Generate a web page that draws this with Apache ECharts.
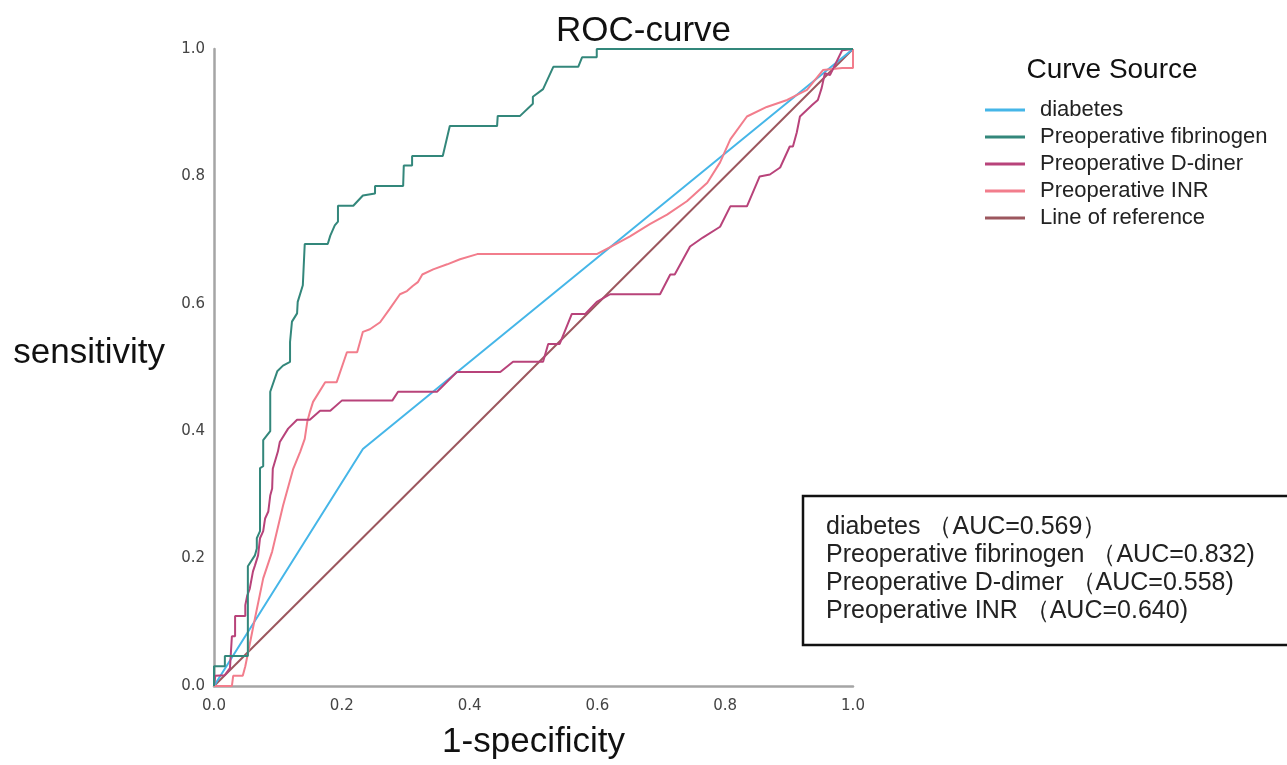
<!DOCTYPE html>
<html>
<head>
<meta charset="utf-8">
<script src="https://cdn.jsdelivr.net/npm/echarts@6/dist/echarts.min.js"></script>
<style>html,body{margin:0;padding:0;background:#fff;}#chart{width:1287px;height:765px;}</style>
</head>
<body>
<div id="chart"></div>
<script>
// ---- data ----
const seriesNames = ['diabetes', 'Preoperative fibrinogen', 'Preoperative D-diner', 'Preoperative INR', 'Line of reference'];
const axisTicks = [0, 0.2, 0.4, 0.6, 0.8, 1.0];

const diabetesFPR = [0, 0.233, 1];
const diabetesTPR = [0, 0.372, 1];

const fibrinogenFPR = [0,0,0.017,0.017,0.053,0.053,0.064,0.067,0.067,0.072,0.072,0.077,0.077,0.088,0.088,0.099,0.108,0.119,0.119,0.122,0.130,0.131,0.139,0.142,0.178,0.182,0.189,0.194,0.194,0.218,0.233,0.252,0.252,0.296,0.297,0.310,0.310,0.358,0.369,0.443,0.444,0.479,0.499,0.499,0.515,0.531,0.570,0.576,0.599,0.599,1];
const fibrinogenTPR = [0,0.031,0.031,0.047,0.047,0.188,0.205,0.216,0.232,0.243,0.342,0.345,0.386,0.400,0.462,0.494,0.503,0.509,0.540,0.572,0.585,0.603,0.629,0.694,0.694,0.707,0.723,0.729,0.754,0.754,0.770,0.773,0.785,0.785,0.817,0.817,0.832,0.832,0.879,0.879,0.895,0.895,0.914,0.925,0.937,0.972,0.972,0.987,0.987,1,1];

const ddimerFPR = [0,0.002,0.017,0.025,0.028,0.033,0.033,0.049,0.049,0.052,0.056,0.061,0.064,0.069,0.072,0.077,0.080,0.085,0.088,0.091,0.092,0.095,0.100,0.103,0.116,0.130,0.150,0.166,0.182,0.200,0.279,0.288,0.349,0.380,0.448,0.468,0.515,0.523,0.541,0.560,0.581,0.599,0.620,0.698,0.714,0.721,0.745,0.765,0.792,0.808,0.834,0.854,0.870,0.886,0.901,0.906,0.912,0.917,0.936,0.945,0.951,0.956,0.964,0.983,1];
const ddimerTPR = [0,0.016,0.017,0.028,0.078,0.078,0.110,0.110,0.127,0.142,0.153,0.180,0.189,0.205,0.232,0.243,0.263,0.274,0.299,0.310,0.341,0.341,0.368,0.383,0.404,0.418,0.418,0.432,0.432,0.448,0.448,0.462,0.462,0.493,0.493,0.509,0.509,0.537,0.537,0.584,0.584,0.603,0.615,0.615,0.646,0.646,0.690,0.704,0.721,0.753,0.753,0.800,0.803,0.814,0.847,0.847,0.869,0.894,0.912,0.920,0.939,0.962,0.959,0.998,1];

const inrFPR = [0,0.028,0.030,0.045,0.049,0.061,0.077,0.091,0.108,0.124,0.135,0.142,0.146,0.150,0.155,0.174,0.192,0.208,0.224,0.233,0.244,0.260,0.275,0.291,0.302,0.311,0.319,0.326,0.343,0.365,0.385,0.412,0.599,0.620,0.651,0.682,0.709,0.740,0.772,0.792,0.808,0.834,0.865,0.897,0.928,0.953,0.983,1,1];
const inrTPR = [0,0,0.016,0.016,0.031,0.091,0.169,0.211,0.283,0.341,0.368,0.388,0.415,0.430,0.446,0.477,0.477,0.524,0.524,0.556,0.560,0.571,0.592,0.615,0.620,0.628,0.634,0.646,0.654,0.662,0.670,0.678,0.678,0.689,0.706,0.725,0.740,0.761,0.790,0.822,0.858,0.894,0.909,0.920,0.936,0.967,0.970,0.970,1];

const referenceFPR = [0, 1];
const referenceTPR = [0, 1];

const aucLabels = ['diabetes （AUC=0.569）', 'Preoperative fibrinogen （AUC=0.832)', 'Preoperative D-dimer （AUC=0.558)', 'Preoperative INR （AUC=0.640)'];

// ---- chart ----
const colors = ['#45b6e8', '#33877b', '#b8437a', '#f27d8c', '#9c575e'];
function pairs(xs, ys) { return xs.map((x, i) => [x, ys[i]]); }
const curveData = [
  pairs(diabetesFPR, diabetesTPR),
  pairs(fibrinogenFPR, fibrinogenTPR),
  pairs(ddimerFPR, ddimerTPR),
  pairs(inrFPR, inrTPR),
  pairs(referenceFPR, referenceTPR)
];
const drawOrder = [4, 0, 3, 2, 1];
const series = drawOrder.map(i => ({
  name: seriesNames[i],
  type: 'line',
  data: curveData[i],
  showSymbol: false,
  symbol: 'none',
  lineStyle: { color: colors[i], width: 2 },
  itemStyle: { color: colors[i] },
  z: 2
}));

const fontSans = 'Liberation Sans, Arial, sans-serif';
const chart = echarts.init(document.getElementById('chart'));
chart.setOption({
  animation: false,
  backgroundColor: '#fff',
  title: {
    text: 'ROC-curve', left: 'center', top: 9,
    textStyle: { fontSize: 35, fontWeight: 'normal', color: '#111', fontFamily: fontSans }
  },
  legend: {
    data: seriesNames,
    orient: 'vertical', left: 985, top: 99,
    icon: 'rect', itemWidth: 40, itemHeight: 3, itemGap: 5, padding: 0,
    textStyle: { fontSize: 22, lineHeight: 22, color: '#222', fontFamily: fontSans, padding: [0, 0, 0, 10] }
  },
  grid: { left: 214, top: 49, width: 639, height: 639 },
  xAxis: {
    type: 'value', min: 0, max: 1, interval: 0.2,
    axisLine: { show: true, lineStyle: { color: '#a5a5a5', width: 2.5 } },
    axisTick: { show: false }, splitLine: { show: false },
    axisLabel: { formatter: v => axisTicks.includes(+v.toFixed(1)) ? v.toFixed(1) : '', fontSize: 15, color: '#444', margin: 13, fontFamily: 'DejaVu Sans' },
    name: '1-specificity', nameLocation: 'middle', nameGap: 39,
    nameTextStyle: { fontSize: 35, color: '#111', fontFamily: fontSans }
  },
  yAxis: {
    type: 'value', min: 0, max: 1, interval: 0.2,
    axisLine: { show: true, lineStyle: { color: '#a5a5a5', width: 2.5 } },
    axisTick: { show: false }, splitLine: { show: false },
    axisLabel: { formatter: v => v.toFixed(1), fontSize: 15, color: '#444', margin: 9, fontFamily: 'DejaVu Sans' },
    name: 'sensitivity', nameLocation: 'middle', nameRotate: 0, nameGap: 49,
    nameTextStyle: { fontSize: 35, color: '#111', fontFamily: fontSans, align: 'right', verticalAlign: 'bottom', lineHeight: 28 }
  },
  graphic: [
    { type: 'text', x: 1112, y: 70, style: { text: 'Curve Source', fontSize: 28, fontFamily: fontSans, fill: '#111', align: 'center', verticalAlign: 'middle' } },
    { type: 'rect', shape: { x: 803, y: 496, width: 520, height: 149 }, style: { fill: '#fff', stroke: '#111', lineWidth: 2.5 } },
    { type: 'text', x: 826, y: 513, style: { text: aucLabels.join('\n'), fontSize: 25, lineHeight: 28, fontFamily: fontSans, fill: '#222', verticalAlign: 'top' } }
  ],
  series: series
});
</script>
</body>
</html>
